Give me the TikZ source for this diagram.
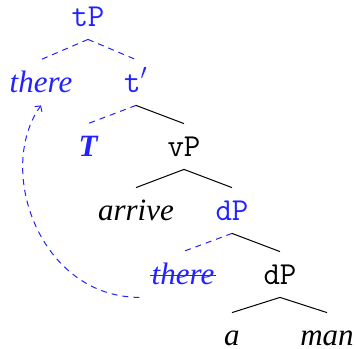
\documentclass[tikz,border=0pt]{standalone}
\usepackage{fontspec}
\setmainfont{Liberation Serif}
\definecolor{TREEblue}{HTML}{2222FF}
\usetikzlibrary{arrows.meta}

\tikzset{
   word/.style={font=\fontsize{15.5}{18}\selectfont\itshape, anchor=base,
      text height=10.5pt, text depth=1pt, inner ysep=5.5pt, inner xsep=6pt},
   cat/.style={font=\fontsize{16}{18}\selectfont\ttfamily, anchor=base,
      text height=10.5pt, text depth=1pt, inner ysep=5.5pt, inner xsep=6pt},
   branch/.style={line width=0.5pt},
   moved/.style={TREEblue, line width=0.5pt, dash pattern=on 3pt off 2.5pt}
}

\begin{document}
\begin{tikzpicture}[x=0.5pt, y=-0.5pt]
      \useasboundingbox (0,0) rectangle (355,349);
      % Labels and words, level by level
      \node[cat, TREEblue] (tP) at (88,26) {tP};
      \node[word, TREEblue] (there) at (41,92) {there};
      \node[cat, TREEblue] (tbar) at (136,92) {t$'$};
      \node[word, TREEblue, font=\fontsize{15.5}{18}\selectfont\bfseries\itshape] (T) at (88,156) {T};
      \node[cat] (vP) at (184,156) {vP};
      \node[word] (arrive) at (136,220) {arrive};
      \node[cat, TREEblue] (dP) at (232,220) {dP};
      \node[word, TREEblue] (thereLow) at (183,284) {there};
      \node[cat] (dPlow) at (280,284) {dP};
      \node[word] (a) at (232,345) {a};
      \node[word] (man) at (327,345) {man};
      % tP
      \draw[moved] (tP.south) -- (there.north);
      \draw[moved] (tP.south) -- (tbar.north);
      % t'
      \draw[moved] (tbar.south) -- (T.north);
      \draw[branch] (tbar.south) -- (vP.north);
      % vP
      \draw[branch] (vP.south) -- (arrive.north);
      \draw[branch] (vP.south) -- (dP.north);
      % upper dP
      \draw[moved] (dP.south) -- (thereLow.north);
      \draw[branch] (dP.south) -- (dPlow.north);
      % lower dP
      \draw[branch] (dPlow.south) -- (a.north);
      \draw[branch] (dPlow.south) -- (man.north);
      % struck-out copy of there
      \draw[TREEblue, line width=0.9pt] ([xshift=5.5pt, yshift=4.3pt]thereLow.base west)
         -- ([xshift=-5.5pt, yshift=4.3pt]thereLow.base east);
      % movement of there
      \draw[moved, -{Straight Barb[length=2pt, width=4.5pt]}] (thereLow.south west)
         .. controls (40,297) and (-5,170) .. (there.south);
   \end{tikzpicture}
\end{document}
